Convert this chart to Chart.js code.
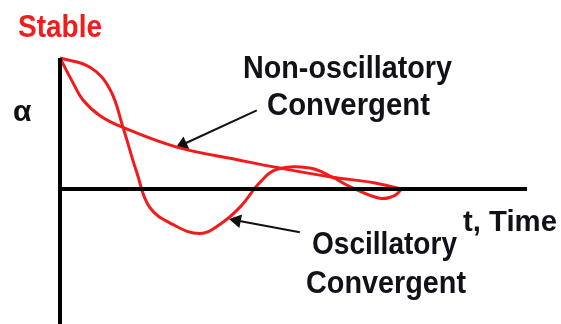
<!DOCTYPE html>
<html>
<head>
<meta charset="utf-8">
<script src="https://cdn.jsdelivr.net/npm/chart.js@4"></script>
<style>
	html, body { margin: 0; padding: 0; background: #ffffff; }
	#wrap { width: 561px; height: 324px; }
</style>
</head>
<body>
<div id="wrap"><canvas id="stabilityChart" width="561" height="324"></canvas></div>
<script>
// time values and alpha values (axis crossing = 0, start = 1)
const nonOscT = [0, 0.39, 0.69, 1.2, 1.89, 3.5, 5.39, 6.59, 8.17, 9.37, 10.24];
const nonOscA = [1, 0.81, 0.68, 0.56, 0.47, 0.32, 0.22, 0.16, 0.09, 0.05, 0];

const oscT = [0, 0.9, 1.5, 1.89, 2.31, 2.69, 3.38, 4.19, 4.79, 5.39, 5.99, 6.5, 7.49, 8.17, 8.68, 9.58, 10.03, 10.24];
const oscA = [1, 0.93, 0.76, 0.47, 0.12, -0.14, -0.27, -0.34, -0.27, -0.14, 0.05, 0.15, 0.16, 0.09, 0.02, -0.07, -0.05, 0];

// axes lines
const axisT = [0, 14];
const axisMinA = -1.05;
const axisMaxA = 1;

// arrows: [tail, head]
const arrowNonOscT = [5.9, 3.68];
const arrowNonOscA = [0.6, 0.34];
const arrowOscT = [7.19, 5.3];
const arrowOscA = [-0.33, -0.24];

const labels = [
	{ text: "Stable", x: 18, y: 37, size: 32, w: 84, color: "#f21c1c" },
	{ text: "\u03b1", x: 13, y: 121, size: 30, w: 21, color: "#111111" },
	{ text: "Non-oscillatory", x: 243, y: 78, size: 32, w: 209, color: "#111118" },
	{ text: "Convergent", x: 267, y: 115, size: 32, w: 163, color: "#111118" },
	{ text: "t, Time", x: 463, y: 231, size: 30, w: 94, color: "#111118" },
	{ text: "Oscillatory", x: 312, y: 254, size: 32, w: 145, color: "#111118" },
	{ text: "Convergent", x: 306, y: 293, size: 32, w: 160, color: "#111118" },
];

function pts(xs, ys) {
	return xs.map((x, i) => ({ x: x, y: ys[i] }));
}

const textPlugin = {
	id: "textLabels",
	afterDraw(chart) {
		const c = chart.ctx;
		c.save();
		c.textBaseline = "alphabetic";
		labels.forEach((l) => {
			c.font = "bold " + l.size + "px 'Liberation Sans', Arial, sans-serif";
			c.fillStyle = l.color;
			c.fillText(l.text, l.x, l.y, l.w);
		});
		c.restore();
	},
};

const red = "#f21a1a";

new Chart(document.getElementById("stabilityChart"), {
	type: "line",
	data: {
		datasets: [
			{
				data: [{ x: 0, y: axisMaxA }, { x: 0, y: axisMinA }],
				borderColor: "#000000",
				borderWidth: 4,
				pointRadius: 0,
				clip: false,
			},
			{
				data: [{ x: axisT[0], y: 0 }, { x: axisT[1], y: 0 }],
				borderColor: "#000000",
				borderWidth: 4,
				pointRadius: 0,
				clip: false,
			},
			{
				data: pts(nonOscT, nonOscA),
				borderColor: red,
				borderWidth: 3,
				tension: 0.4,
				pointRadius: 0,
				clip: false,
			},
			{
				data: pts(oscT, oscA),
				borderColor: red,
				borderWidth: 3,
				tension: 0.4,
				pointRadius: 0,
				clip: false,
			},
			{
				data: pts(arrowNonOscT, arrowNonOscA),
				borderColor: "#111111",
				borderWidth: 2,
				pointStyle: "triangle",
				pointRadius: [0, 6],
				pointRotation: [0, 245],
				pointBackgroundColor: "#111111",
				pointBorderColor: "#111111",
			},
			{
				data: pts(arrowOscT, arrowOscA),
				borderColor: "#111111",
				borderWidth: 2,
				pointStyle: "triangle",
				pointRadius: [0, 6],
				pointRotation: [0, 281],
				pointBackgroundColor: "#111111",
				pointBorderColor: "#111111",
			},
			{
				// partial red circle at the top edge
				data: [{ x: 7.84, y: 1.54 }],
				showLine: false,
				clip: false,
				pointRadius: 16,
				pointBorderWidth: 4,
				pointBorderColor: red,
				pointBackgroundColor: "rgba(0,0,0,0)",
			},
		],
	},
	options: {
		responsive: false,
		animation: false,
		layout: { autoPadding: false, padding: { left: 60, right: 34, top: 58, bottom: 0 } },
		plugins: { legend: { display: false }, tooltip: { enabled: false } },
		scales: {
			x: { type: "linear", min: 0, max: 14, display: false },
			y: { type: "linear", min: -1.03, max: 1, display: false },
		},
	},
	plugins: [textPlugin],
});
</script>
</body>
</html>
